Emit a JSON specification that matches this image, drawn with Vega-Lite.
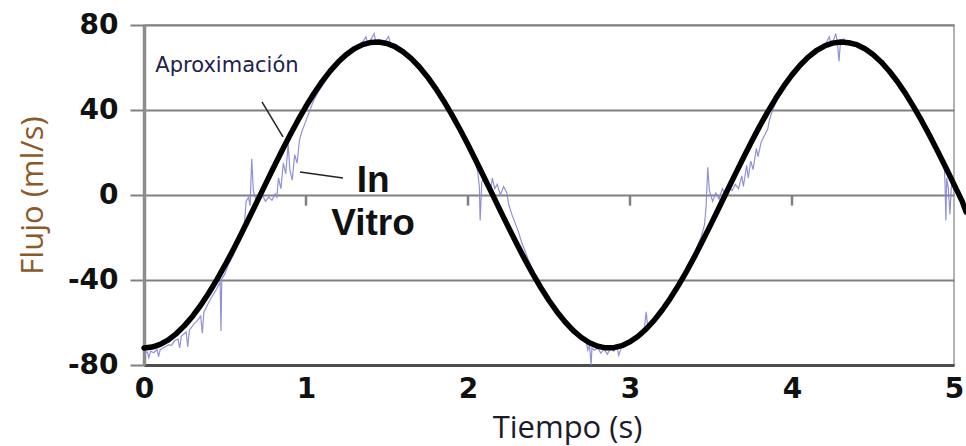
{
  "$schema": "https://vega.github.io/schema/vega-lite/v6.json",
  "width": 810,
  "height": 340,
  "autosize": {"type": "none"},
  "padding": {"left": 144, "top": 25, "right": 12, "bottom": 81},
  "background": "white",
  "config": {
    "view": {"stroke": "#9a9a9a", "strokeWidth": 1.5}
  },
  "datasets": {
    "ticks0": [{"t": 1, "v": 0, "v2": -5}, {"t": 2, "v": 0, "v2": -5}, {"t": 3, "v": 0, "v2": -5}, {"t": 4, "v": 0, "v2": -5}],
    "invitro": [
      {"t":0,"v":-74.5},{"t":0.02,"v":-73.8},{"t":0.03,"v":-76.5},{"t":0.04,"v":-73.5},{"t":0.06,"v":-74.2},{"t":0.08,"v":-72.6},{"t":0.09,"v":-76},{"t":0.1,"v":-72.8},{"t":0.13,"v":-71.5},{"t":0.15,"v":-70.5},{"t":0.17,"v":-70.8},{"t":0.19,"v":-68.5},{"t":0.21,"v":-67.8},{"t":0.22,"v":-72},{"t":0.23,"v":-66.5},{"t":0.26,"v":-64.5},{"t":0.27,"v":-71.5},{"t":0.28,"v":-63.6},{"t":0.31,"v":-60.5},{"t":0.33,"v":-59},{"t":0.35,"v":-57},{"t":0.36,"v":-65},{"t":0.37,"v":-55},{"t":0.4,"v":-50.5},{"t":0.43,"v":-46.5},{"t":0.45,"v":-44},{"t":0.47,"v":-41},{"t":0.475,"v":-64},{"t":0.48,"v":-39.5},{"t":0.5,"v":-37},{"t":0.52,"v":-33},{"t":0.55,"v":-28.5},{"t":0.57,"v":-25},{"t":0.59,"v":-22},{"t":0.61,"v":-18},{"t":0.62,"v":-14},{"t":0.63,"v":-3},{"t":0.645,"v":-1},{"t":0.655,"v":-5},{"t":0.665,"v":17},{"t":0.675,"v":2},{"t":0.69,"v":-2},{"t":0.71,"v":-3},{"t":0.73,"v":0},{"t":0.75,"v":-3},{"t":0.77,"v":-1},{"t":0.79,"v":-2.5},{"t":0.81,"v":0.5},{"t":0.82,"v":-1},{"t":0.83,"v":8},{"t":0.845,"v":3},{"t":0.86,"v":15},{"t":0.875,"v":10},{"t":0.89,"v":24},{"t":0.9,"v":12},{"t":0.915,"v":7},{"t":0.93,"v":19},{"t":0.945,"v":15},{"t":0.96,"v":26},{"t":0.975,"v":30},{"t":0.99,"v":33},{"t":1.01,"v":37},{"t":1.03,"v":41},{"t":1.05,"v":45},{"t":1.08,"v":49},{"t":1.11,"v":52.5},{"t":1.14,"v":56},{"t":1.17,"v":59.5},{"t":1.2,"v":62},{"t":1.23,"v":64.5},{"t":1.26,"v":67},{"t":1.29,"v":69},{"t":1.32,"v":70.5},{"t":1.35,"v":72},{"t":1.37,"v":74.5},{"t":1.38,"v":71.5},{"t":1.4,"v":73},{"t":1.42,"v":76},{"t":1.43,"v":72.5},{"t":1.46,"v":73},{"t":1.49,"v":72.5},{"t":1.51,"v":74.5},{"t":1.52,"v":71.5},{"t":1.55,"v":71},{"t":1.58,"v":69.5},{"t":1.61,"v":67.5},{"t":1.64,"v":65.5},{"t":1.67,"v":63},{"t":1.7,"v":60.5},{"t":1.73,"v":57.5},{"t":1.76,"v":54},{"t":1.79,"v":51},{"t":1.82,"v":47.5},{"t":1.85,"v":44},{"t":1.88,"v":40},{"t":1.91,"v":36.5},{"t":1.94,"v":32.5},{"t":1.97,"v":28.5},{"t":2,"v":25},{"t":2.02,"v":22},{"t":2.04,"v":17},{"t":2.06,"v":11},{"t":2.07,"v":4},{"t":2.075,"v":-12},{"t":2.085,"v":6},{"t":2.1,"v":9},{"t":2.12,"v":5},{"t":2.14,"v":2},{"t":2.15,"v":8},{"t":2.165,"v":3},{"t":2.18,"v":5},{"t":2.2,"v":0},{"t":2.22,"v":4},{"t":2.24,"v":1},{"t":2.25,"v":-4},{"t":2.27,"v":-9},{"t":2.29,"v":-13},{"t":2.31,"v":-17},{"t":2.33,"v":-22},{"t":2.35,"v":-26},{"t":2.37,"v":-30},{"t":2.4,"v":-35.5},{"t":2.43,"v":-41},{"t":2.46,"v":-45},{"t":2.49,"v":-49},{"t":2.52,"v":-52.5},{"t":2.55,"v":-56},{"t":2.58,"v":-59},{"t":2.61,"v":-61.5},{"t":2.64,"v":-64},{"t":2.67,"v":-66},{"t":2.7,"v":-68},{"t":2.73,"v":-69.5},{"t":2.74,"v":-73},{"t":2.75,"v":-70.5},{"t":2.76,"v":-80},{"t":2.765,"v":-72},{"t":2.78,"v":-73},{"t":2.8,"v":-72},{"t":2.82,"v":-74.5},{"t":2.84,"v":-72.5},{"t":2.86,"v":-75},{"t":2.88,"v":-72},{"t":2.9,"v":-73.5},{"t":2.92,"v":-71.5},{"t":2.93,"v":-75.5},{"t":2.95,"v":-71},{"t":2.98,"v":-70},{"t":3.01,"v":-68},{"t":3.04,"v":-66.5},{"t":3.07,"v":-64.5},{"t":3.09,"v":-62},{"t":3.1,"v":-55},{"t":3.11,"v":-62.5},{"t":3.14,"v":-59.5},{"t":3.17,"v":-56.5},{"t":3.2,"v":-53.5},{"t":3.23,"v":-50},{"t":3.26,"v":-46.5},{"t":3.29,"v":-42.5},{"t":3.32,"v":-39},{"t":3.35,"v":-34.5},{"t":3.38,"v":-30},{"t":3.41,"v":-25},{"t":3.44,"v":-19.5},{"t":3.46,"v":-14},{"t":3.47,"v":-5},{"t":3.48,"v":13},{"t":3.49,"v":2},{"t":3.51,"v":-3},{"t":3.53,"v":1},{"t":3.55,"v":-2},{"t":3.57,"v":3},{"t":3.59,"v":0},{"t":3.61,"v":4},{"t":3.63,"v":2},{"t":3.65,"v":5},{"t":3.67,"v":3},{"t":3.69,"v":9},{"t":3.7,"v":4},{"t":3.72,"v":14},{"t":3.73,"v":8},{"t":3.745,"v":16},{"t":3.76,"v":12},{"t":3.78,"v":22},{"t":3.79,"v":18},{"t":3.81,"v":25},{"t":3.83,"v":28},{"t":3.85,"v":31},{"t":3.86,"v":35},{"t":3.88,"v":40},{"t":3.91,"v":45},{"t":3.94,"v":49.5},{"t":3.97,"v":53},{"t":4,"v":56},{"t":4.03,"v":59},{"t":4.06,"v":61.5},{"t":4.09,"v":64},{"t":4.12,"v":66},{"t":4.15,"v":68},{"t":4.18,"v":70},{"t":4.21,"v":71.5},{"t":4.23,"v":74.5},{"t":4.24,"v":71},{"t":4.26,"v":73.5},{"t":4.27,"v":76},{"t":4.28,"v":72},{"t":4.29,"v":63},{"t":4.3,"v":72.5},{"t":4.32,"v":73.5},{"t":4.34,"v":71},{"t":4.37,"v":71.5},{"t":4.4,"v":70},{"t":4.43,"v":69.5},{"t":4.46,"v":68},{"t":4.49,"v":66.5},{"t":4.52,"v":64.5},{"t":4.55,"v":62},{"t":4.58,"v":59.5},{"t":4.61,"v":57},{"t":4.64,"v":54},{"t":4.67,"v":51.5},{"t":4.7,"v":48.5},{"t":4.73,"v":45},{"t":4.76,"v":41.5},{"t":4.79,"v":38},{"t":4.82,"v":34},{"t":4.85,"v":30},{"t":4.88,"v":25.5},{"t":4.9,"v":22},{"t":4.92,"v":18},{"t":4.94,"v":14},{"t":4.945,"v":4},{"t":4.95,"v":-12},{"t":4.955,"v":8},{"t":4.965,"v":3},{"t":4.975,"v":-9},{"t":4.985,"v":6},{"t":5,"v":2}
    ],
    "aprox": [
      {"t":0,"v":-72},{"t":0.05,"v":-71.57},{"t":0.1,"v":-70.28},{"t":0.15,"v":-68.15},{"t":0.2,"v":-65.21},{"t":0.25,"v":-61.48},{"t":0.3,"v":-57.02},{"t":0.35,"v":-51.88},{"t":0.4,"v":-46.12},{"t":0.45,"v":-39.81},{"t":0.5,"v":-33.03},{"t":0.55,"v":-25.87},{"t":0.6,"v":-18.39},{"t":0.65,"v":-10.6},{"t":0.7,"v":-2.76},{"t":0.75,"v":5.12},{"t":0.8,"v":12.93},{"t":0.85,"v":20.59},{"t":0.9,"v":28.01},{"t":0.95,"v":35.09},{"t":1,"v":41.74},{"t":1.05,"v":47.9},{"t":1.1,"v":53.5},{"t":1.15,"v":58.44},{"t":1.2,"v":62.68},{"t":1.25,"v":66.17},{"t":1.3,"v":68.89},{"t":1.35,"v":70.77},{"t":1.4,"v":71.79},{"t":1.45,"v":71.96},{"t":1.5,"v":71.27},{"t":1.55,"v":69.73},{"t":1.6,"v":67.35},{"t":1.65,"v":64.17},{"t":1.7,"v":60.22},{"t":1.75,"v":55.55},{"t":1.8,"v":50.21},{"t":1.85,"v":44.28},{"t":1.9,"v":37.82},{"t":1.95,"v":30.93},{"t":2,"v":23.68},{"t":2.05,"v":16.02},{"t":2.1,"v":8.26},{"t":2.15,"v":0.39},{"t":2.2,"v":-7.47},{"t":2.25,"v":-15.25},{"t":2.3,"v":-22.85},{"t":2.35,"v":-30.17},{"t":2.4,"v":-37.13},{"t":2.45,"v":-43.65},{"t":2.5,"v":-49.64},{"t":2.55,"v":-55.04},{"t":2.6,"v":-59.77},{"t":2.65,"v":-63.81},{"t":2.7,"v":-67.07},{"t":2.75,"v":-69.53},{"t":2.8,"v":-71.16},{"t":2.85,"v":-71.93},{"t":2.9,"v":-71.84},{"t":2.95,"v":-70.9},{"t":3,"v":-69.1},{"t":3.05,"v":-66.48},{"t":3.1,"v":-63.06},{"t":3.15,"v":-58.89},{"t":3.2,"v":-54.02},{"t":3.25,"v":-48.5},{"t":3.3,"v":-42.4},{"t":3.35,"v":-35.8},{"t":3.4,"v":-28.78},{"t":3.45,"v":-21.35},{"t":3.5,"v":-13.71},{"t":3.55,"v":-5.91},{"t":3.6,"v":1.97},{"t":3.65,"v":9.82},{"t":3.7,"v":17.55},{"t":3.75,"v":25.08},{"t":3.8,"v":32.3},{"t":3.85,"v":39.14},{"t":3.9,"v":45.51},{"t":3.95,"v":51.33},{"t":4,"v":56.53},{"t":4.05,"v":61.06},{"t":4.1,"v":64.87},{"t":4.15,"v":67.89},{"t":4.2,"v":70.11},{"t":4.25,"v":71.48},{"t":4.3,"v":72},{"t":4.35,"v":71.65},{"t":4.4,"v":70.73},{"t":4.45,"v":68.84},{"t":4.5,"v":66.12},{"t":4.55,"v":62.61},{"t":4.6,"v":58.35},{"t":4.65,"v":53.4},{"t":4.7,"v":47.81},{"t":4.75,"v":41.61},{"t":4.8,"v":34.97},{"t":4.85,"v":27.88},{"t":4.9,"v":20.47},{"t":4.95,"v":12.8},{"t":5,"v":4.98},{"t":5.05,"v":-2.89},{"t":5.075,"v":-8}
    ],
    "leaders": [
      {"t": 0.728, "v": 43.8, "t2": 0.858, "v2": 27.3},
      {"t": 0.963, "v": 10.8, "t2": 1.228, "v2": 8.0}
    ],
    "labelAprox": [{"t": 0.07, "v": 57.9, "label": "Aproximación"}],
    "labelVitro": [{"t": 1.414, "v": 1.4, "label": "In"}, {"t": 1.414, "v": -18.8, "label": "Vitro"}]
  },
  "encoding": {
    "x": {
      "field": "t", "type": "quantitative",
      "scale": {"domain": [0, 5], "nice": false, "zero": false},
      "axis": {
        "title": "Tiempo (s)", "values": [0, 1, 2, 3, 4, 5], "format": "d",
        "grid": false, "ticks": false,
        "domainColor": "#4d4d4d", "domainWidth": 3,
        "labelFont": "DejaVu Sans", "labelFontSize": 28, "labelFontWeight": "bold", "labelColor": "#111111",
        "labelPadding": 10, "labelFlush": false, "labelOverlap": false,
        "titleFont": "Open Sans", "titleFontSize": 31, "titleFontWeight": "normal", "titleColor": "#1b1b2b",
        "titlePadding": 10, "titleX": 423
      }
    },
    "y": {
      "field": "v", "type": "quantitative",
      "scale": {"domain": [-80, 80], "nice": false},
      "axis": {
        "title": "Flujo (ml/s)", "values": [-80, -40, 0, 40, 80],
        "labelExpr": "datum.value < 0 ? '-' + abs(datum.value) : '' + datum.value",
        "grid": true, "gridColor": "#808080", "gridWidth": 2,
        "domainColor": "#8c8c8c", "domainWidth": 3.5,
        "tickColor": "#808080", "tickWidth": 2, "tickSize": 14,
        "labelFont": "DejaVu Sans", "labelFontSize": 28, "labelFontWeight": "bold", "labelColor": "#111111",
        "labelPadding": 12, "labelOverlap": false,
        "titleFont": "Open Sans", "titleFontSize": 31, "titleFontWeight": "normal", "titleColor": "#8b5a2b",
        "titlePadding": 18
      }
    }
  },
  "layer": [
    {
      "data": {"name": "ticks0"},
      "mark": {"type": "rule", "color": "#7f7f7f", "strokeWidth": 2.5},
      "encoding": {"y2": {"field": "v2"}}
    },
    {
      "data": {"name": "invitro"},
      "mark": {"type": "line", "color": "#8585d6", "strokeWidth": 1.2, "opacity": 0.9}
    },
    {
      "data": {"name": "aprox"},
      "mark": {"type": "line", "color": "#000000", "strokeWidth": 5.5, "clip": false, "strokeJoin": "round", "strokeCap": "round"}
    },
    {
      "data": {"name": "leaders"},
      "mark": {"type": "rule", "color": "#222222", "strokeWidth": 1.5},
      "encoding": {"x2": {"field": "t2"}, "y2": {"field": "v2"}}
    },
    {
      "data": {"name": "labelAprox"},
      "mark": {"type": "text", "align": "left", "baseline": "alphabetic", "font": "DejaVu Sans", "fontSize": 21, "color": "#22224a"},
      "encoding": {"text": {"field": "label"}}
    },
    {
      "data": {"name": "labelVitro"},
      "mark": {"type": "text", "align": "center", "baseline": "alphabetic", "font": "Liberation Sans", "fontWeight": "bold", "fontSize": 37, "color": "#111111"},
      "encoding": {"text": {"field": "label"}}
    }
  ]
}
